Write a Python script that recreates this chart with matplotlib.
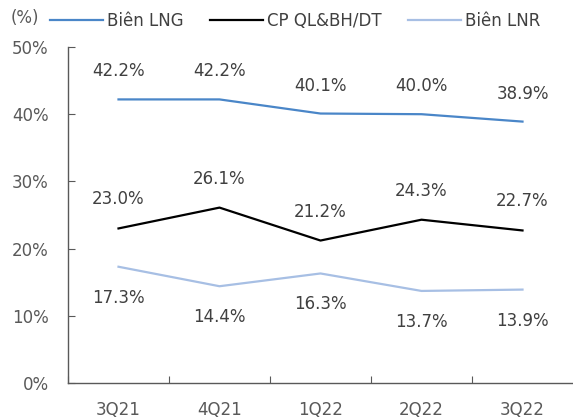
import matplotlib
matplotlib.use("Agg")
import matplotlib.pyplot as plt

categories = ["3Q21", "4Q21", "1Q22", "2Q22", "3Q22"]
bien_lng = [42.2, 42.2, 40.1, 40.0, 38.9]
cp_ql = [23.0, 26.1, 21.2, 24.3, 22.7]
bien_lnr = [17.3, 14.4, 16.3, 13.7, 13.9]
yticks = [0, 10, 20, 30, 40, 50]

plt.rcParams['font.family'] = ['DejaVu Sans']
fig = plt.figure(figsize=(5.73, 4.19), dpi=100)
ax = fig.add_axes([68/573, 1-383/419, 505/573, (383-47)/419])

c_lng = "#4a86c8"
c_cp = "#000000"
c_lnr = "#a7bfe4"
x = list(range(len(categories)))
l1, = ax.plot(x, bien_lng, color=c_lng, lw=1.6, label="Biên LNG")
l2, = ax.plot(x, cp_ql, color=c_cp, lw=1.6, label="CP QL&BH/DT")
l3, = ax.plot(x, bien_lnr, color=c_lnr, lw=1.6, label="Biên LNR")

lab_col = "#404040"
fs = 12
for xi, v in zip(x, bien_lng):
    ax.annotate(f"{v:.1f}%", (xi, v), xytext=(0, 28), textcoords="offset pixels",
                ha="center", va="center", fontsize=fs, color=lab_col)
for xi, v in zip(x, cp_ql):
    ax.annotate(f"{v:.1f}%", (xi, v), xytext=(0, 29), textcoords="offset pixels",
                ha="center", va="center", fontsize=fs, color=lab_col)
for xi, v in zip(x, bien_lnr):
    ax.annotate(f"{v:.1f}%", (xi, v), xytext=(0, -31), textcoords="offset pixels",
                ha="center", va="center", fontsize=fs, color=lab_col)

ax.set_xlim(-0.5, 4.5)
ax.set_ylim(0, 50)
ax.set_yticks(yticks)
ax.set_yticklabels([f"{t}%" for t in yticks])
ax.set_xticks([i - 0.5 for i in range(len(categories))])
ax.set_xticklabels([])
ax.set_xticks(x, minor=True)
ax.set_xticklabels(categories, minor=True)
ax.tick_params(axis='x', which='major', direction='in', length=5, color="#595959")
ax.tick_params(axis='x', which='minor', length=0, pad=13, labelsize=fs, labelcolor="#595959")
ax.tick_params(axis='y', direction='in', length=5, pad=14, labelsize=fs, labelcolor="#595959", color="#595959")
for s in ["top", "right"]:
    ax.spines[s].set_visible(False)
for s in ["left", "bottom"]:
    ax.spines[s].set_color("#595959")
    ax.spines[s].set_linewidth(1.0)

fig.text(11/573, 1-18/419, "(%)", fontsize=fs, color="#595959", ha="left", va="center")
fig.legend(handles=[l1, l2, l3], loc="center left", bbox_to_anchor=(50/573, 1-21/419),
           ncol=3, frameon=False, fontsize=fs, handlelength=3.2, handletextpad=0.2,
           columnspacing=1.6, labelcolor="#404040", borderaxespad=0, borderpad=0)

fig.savefig("out.png", dpi=100)
